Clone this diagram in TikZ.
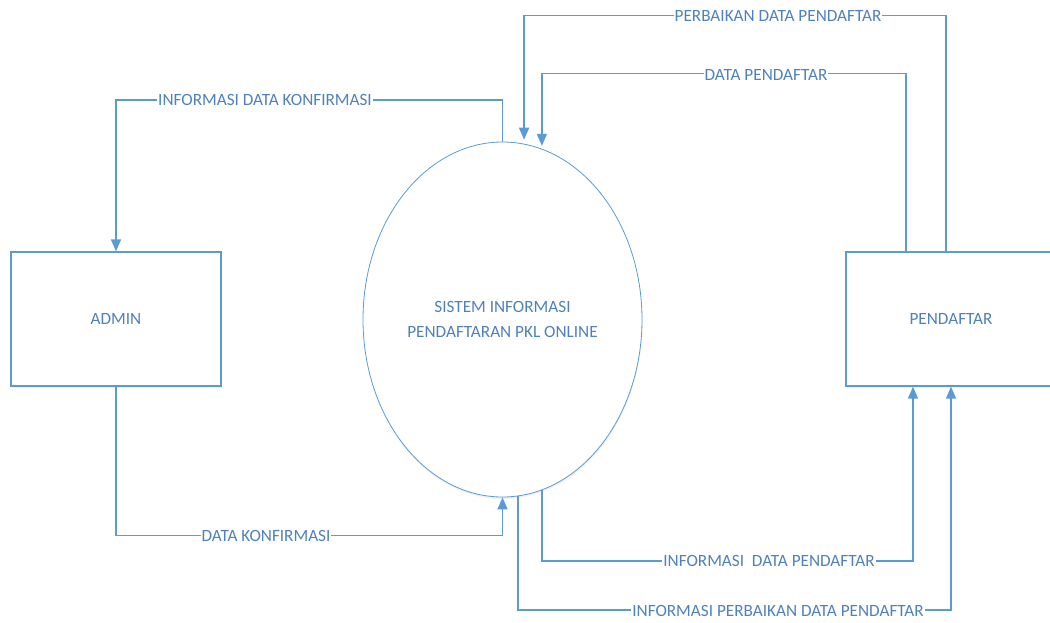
\documentclass[tikz,border=0pt]{standalone}
\usepackage{fontspec}
\setmainfont{Carlito}
\usetikzlibrary{positioning,shapes.geometric,arrows.meta,shadows}
\definecolor{dfdline}{RGB}{91,155,213}
\definecolor{dfdtext}{RGB}{79,129,189}

\begin{document}
\begin{tikzpicture}[x=1pt,y=-1pt,
    entity/.style={rectangle,draw=dfdline,line width=1.3pt,fill=white,minimum width=210pt,minimum height=134pt,
      text=dfdtext,font=\fontsize{17.2}{20}\selectfont,drop shadow={shadow xshift=0.5pt,shadow yshift=-2pt,opacity=0.12}},
    proc/.style={ellipse,draw=dfdline,line width=0.8pt,fill=white,minimum width=279pt,minimum height=355pt,inner sep=0pt,
      align=center,text=dfdtext,font=\fontsize{17.2}{25}\selectfont,drop shadow={shadow xshift=0.5pt,shadow yshift=-2pt,opacity=0.12}},
    flow/.style={draw=dfdline,line width=1.5pt,-{Triangle[width=10pt,length=12pt]}},
    flowlabel/.style={fill=white,text=dfdtext,inner sep=1pt,font=\fontsize{17.2}{20}\selectfont}]
  \useasboundingbox (0,0) rectangle (1050,623);

  % external entities and the process
  \node[entity] (admin) at (116,319) {ADMIN};
  \node[proc] (sistem) at (502.5,319.5) {SISTEM INFORMASI\\PENDAFTARAN PKL ONLINE};
  \node[entity] (pendaftar) at (951,319) {PENDAFTAR};

  % flows above
  \draw[flow] (sistem.north) -- (sistem.north |- 0,100) -| (admin.north);
  \draw[flow,shorten >=4pt] ([xshift=-5]pendaftar.north) -- ++(0,-236) -| (sistem.83);
  \draw[flow,shorten >=3pt] ([xshift=-45]pendaftar.north) -- ++(0,-178) -| (sistem.77);

  % flows below
  \draw[flow] (admin.south) -- ++(0,149) -| (sistem.south);
  \draw[flow] (sistem.-77) -- (sistem.-77 |- 0,561) -| ([xshift=-38]pendaftar.south);
  \draw[flow] (sistem.-85) -- (sistem.-85 |- 0,610) -| (pendaftar.south);

  \foreach \n/\x/\y/\s in {infokonf/265/100/INFORMASI DATA KONFIRMASI,
      perbaikan/778/16/PERBAIKAN DATA PENDAFTAR,
      datadaftar/766/75/DATA PENDAFTAR,
      konf/266/536/DATA KONFIRMASI,
      infodaftar/769/561/INFORMASI\ \ DATA PENDAFTAR,
      infoperb/778/611/INFORMASI PERBAIKAN DATA PENDAFTAR}
    \node[flowlabel] (\n) at (\x,\y) {\s};
\end{tikzpicture}
\end{document}
